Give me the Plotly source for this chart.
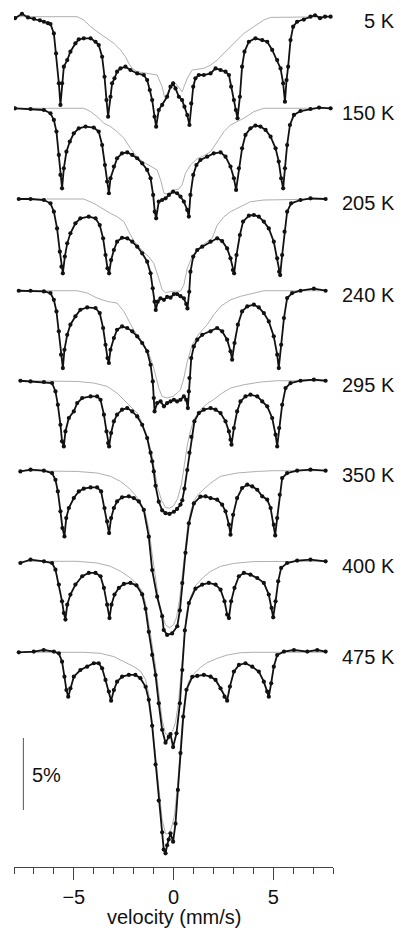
import plotly.graph_objects as go

# ---- temperatures and vertical offsets (relative transmission, %) ----
temps = ["5 K", "150 K", "205 K", "240 K", "295 K", "350 K", "400 K", "475 K"]
offsets = [100.0, 93.64, 87.34, 80.97, 74.72, 68.47, 62.18, 55.86]

# ---- measured spectra: (velocity mm/s, absorption %) ----
s5K = [(-7.95,0.1),(-7.6,-0.2),(-7.3,0.05),(-7.0,0.15),(-6.7,0.25),(-6.5,0.35),(-6.3,0.45),(-6.17,0.51),
       (-6.0,1.16),(-5.89,2.55),(-5.75,4.63),(-5.67,6.13),(-5.59,4.63),(-5.5,3.47),(-5.33,3.01),(-5.17,2.43),
       (-4.92,1.85),(-4.75,1.57),(-4.5,1.5),(-4.16,1.5),(-3.91,1.74),(-3.75,1.97),(-3.58,2.78),(-3.46,4.17),
       (-3.36,5.79),(-3.28,6.94),(-3.16,5.56),(-3.08,4.63),(-2.96,4.28),(-2.83,3.82),(-2.66,3.59),(-2.41,3.47),
       (-2.16,3.7),(-1.82,3.94),(-1.49,4.05),(-1.32,4.4),(-1.19,5.09),(-1.07,5.79),(-0.95,6.94),(-0.87,7.64),
       (-0.74,6.48),(-0.57,6.13),(-0.32,5.56),(-0.15,4.86),(-0.02,4.63),(0.1,4.98),(0.27,5.56),(0.43,5.79),
       (0.55,6.25),(0.69,6.83),(0.8,7.52),(0.89,6.02),(0.99,4.86),(1.1,4.28),(1.27,4.05),(1.52,4.05),
       (1.86,3.94),(2.11,3.59),(2.36,3.7),(2.61,3.82),(2.78,4.05),(2.89,4.86),(3.03,5.79),(3.13,6.48),
       (3.21,7.06),(3.33,5.56),(3.44,3.47),(3.56,2.43),(3.78,1.74),(4.11,1.5),(4.45,1.62),(4.7,1.74),
       (4.95,2.31),(5.2,3.01),(5.37,3.59),(5.5,4.63),(5.59,5.9),(5.67,4.4),(5.75,3.47),(5.87,1.62),
       (6.0,0.69),(6.2,0.35),(6.54,0.2),(6.87,0.0),(7.1,-0.1),(7.35,0.1),(7.6,0.0),(7.88,0.0)]
s150K = [(-7.95,0),(-7.17,0.05),(-6.5,0.12),(-6.17,0.35),(-6.0,0.81),(-5.87,1.62),(-5.75,3.24),(-5.67,4.63),
         (-5.59,5.56),(-5.5,4.17),(-5.37,3.01),(-5.2,2.31),(-5.0,1.74),(-4.75,1.39),(-4.41,1.27),(-4.0,1.34),
         (-3.75,1.62),(-3.58,2.55),(-3.44,3.94),(-3.33,5.09),(-3.24,5.9),(-3.16,4.86),(-2.99,4.05),(-2.83,3.47),
         (-2.58,3.13),(-2.32,3.06),(-2.07,3.24),(-1.82,3.47),(-1.57,3.82),(-1.32,4.28),(-1.15,4.86),(-1.02,6.02),
         (-0.94,7.18),(-0.87,7.64),(-0.74,6.48),(-0.57,6.37),(-0.4,6.25),(-0.23,6.02),(-0.02,5.79),(0.18,5.9),
         (0.35,6.13),(0.52,6.48),(0.69,7.06),(0.77,7.52),(0.85,6.02),(0.99,4.63),(1.15,3.94),(1.35,3.59),
         (1.69,3.36),(2.02,3.13),(2.36,3.06),(2.61,3.36),(2.86,4.05),(3.03,4.86),(3.14,5.67),(3.28,4.17),
         (3.44,2.78),(3.61,1.85),(3.86,1.39),(4.11,1.2),(4.36,1.27),(4.62,1.5),(4.87,1.97),(5.12,2.78),
         (5.28,3.7),(5.4,4.86),(5.5,5.56),(5.59,4.17),(5.7,2.55),(5.84,1.16),(6.04,0.46),(6.37,0.19),
         (6.87,0.05),(7.3,-0.05),(7.88,0)]
s205K = [(-7.76,0),(-7.17,0),(-6.5,0.07),(-6.17,0.3),(-6.0,0.88),(-5.84,2.04),(-5.7,3.66),(-5.62,4.7),
         (-5.55,5.16),(-5.45,4.0),(-5.33,3.08),(-5.17,2.38),(-4.92,1.69),(-4.67,1.34),(-4.25,1.23),(-3.91,1.34),
         (-3.7,1.81),(-3.53,2.73),(-3.41,3.89),(-3.31,4.81),(-3.23,5.16),(-3.13,4.24),(-2.99,3.54),(-2.83,2.96),
         (-2.58,2.69),(-2.32,2.73),(-2.07,2.96),(-1.82,3.31),(-1.57,3.77),(-1.32,4.35),(-1.15,5.16),(-1.04,6.2),
         (-0.95,7.13),(-0.89,7.71),(-0.79,7.13),(-0.65,6.9),(-0.48,7.0),(-0.32,6.8),(-0.15,6.85),(0.02,6.6),
         (0.18,6.6),(0.35,6.75),(0.52,6.9),(0.64,7.3),(0.7,7.6),(0.79,6.44),(0.85,5.05),(0.99,4.0),
         (1.19,3.54),(1.44,3.31),(1.86,2.96),(2.19,2.73),(2.44,2.92),(2.69,3.43),(2.86,4.12),(2.98,4.93),
         (3.04,5.16),(3.16,3.89),(3.33,2.5),(3.49,1.57),(3.78,1.16),(4.03,1.11),(4.28,1.23),(4.53,1.57),
         (4.78,2.04),(5.03,2.96),(5.2,4.12),(5.3,5.05),(5.35,5.28),(5.45,3.89),(5.57,2.27),(5.7,0.88),
         (5.9,0.3),(6.37,0.07),(6.87,-0.05),(7.63,0)]
s240K = [(-7.76,0),(-7.17,0),(-6.5,0.05),(-6.17,0.16),(-6.0,0.63),(-5.87,1.44),(-5.75,2.82),(-5.64,4.44),
         (-5.55,5.37),(-5.47,4.1),(-5.33,3.06),(-5.17,2.36),(-4.92,1.78),(-4.67,1.32),(-4.33,1.16),(-3.91,1.2),
         (-3.7,1.55),(-3.53,2.59),(-3.41,3.75),(-3.31,4.68),(-3.24,5.02),(-3.16,4.1),(-2.99,3.29),(-2.83,2.71),
         (-2.58,2.48),(-2.32,2.59),(-2.07,2.82),(-1.82,3.17),(-1.57,3.63),(-1.32,4.21),(-1.15,5.14),(-1.04,6.3),
         (-0.99,7.45),(-0.95,8.38),(-0.82,7.8),(-0.65,7.69),(-0.48,8.03),(-0.32,7.8),(-0.15,7.69),(0.02,7.57),
         (0.18,7.69),(0.35,7.57),(0.52,7.34),(0.64,7.57),(0.72,8.15),(0.77,6.99),(0.8,6.06),(0.89,4.68),
         (1.02,3.87),(1.19,3.4),(1.44,3.06),(1.86,2.82),(2.19,2.59),(2.44,2.82),(2.69,3.4),(2.86,4.21),
         (2.94,4.79),(3.06,3.63),(3.23,2.36),(3.44,1.44),(3.7,1.09),(4.03,0.97),(4.28,1.16),(4.53,1.55),
         (4.78,2.13),(5.03,3.17),(5.2,4.44),(5.28,5.37),(5.4,3.75),(5.54,1.9),(5.7,0.51),(5.95,0.16),
         (6.37,0),(7.04,-0.14),(7.63,0)]
s295K = [(-7.68,0),(-7.17,0.05),(-6.5,0.09),(-6.09,0.16),(-5.92,0.74),(-5.8,1.67),(-5.67,3.06),(-5.59,4.21),
         (-5.5,4.56),(-5.42,3.52),(-5.25,2.59),(-5.0,2.13),(-4.83,1.55),(-4.58,1.2),(-4.16,1.09),(-3.83,1.09),
         (-3.66,1.32),(-3.49,2.36),(-3.36,3.52),(-3.28,4.33),(-3.23,4.56),(-3.13,3.63),(-2.99,2.82),(-2.83,2.36),
         (-2.58,2.01),(-2.32,1.9),(-2.07,2.13),(-1.82,2.48),(-1.57,3.06),(-1.32,3.98),(-1.15,5.0),(-1.07,5.6),
         (-0.99,6.3),(-0.9,7.3),(-0.74,8.4),(-0.57,9.0),(-0.4,9.2),(-0.2,9.25),(0.02,9.1),(0.18,8.9),
         (0.35,8.6),(0.44,8.3),(0.55,7.5),(0.69,6.2),(0.8,5.0),(0.9,3.9),(1.05,2.82),(1.27,2.25),
         (1.52,2.01),(1.86,1.9),(2.11,2.01),(2.36,2.25),(2.61,2.82),(2.78,3.52),(2.86,4.1),(2.91,4.44),
         (3.03,3.29),(3.19,2.13),(3.36,1.44),(3.61,1.09),(3.86,0.97),(4.2,1.09),(4.45,1.44),(4.7,1.78),
         (4.95,2.59),(5.12,3.75),(5.2,4.56),(5.3,3.29),(5.45,1.67),(5.62,0.51),(5.87,0.16),(6.37,0),
         (7.04,-0.07),(7.63,0)]
s350K = [(-7.68,0.05),(-7.17,-0.07),(-6.5,0),(-6.09,0.16),(-5.92,0.63),(-5.8,1.44),(-5.67,2.82),(-5.57,3.98),
         (-5.47,4.56),(-5.38,3.29),(-5.25,2.59),(-5.0,1.9),(-4.75,1.44),(-4.5,1.25),(-4.16,1.16),(-3.83,1.16),
         (-3.63,1.44),(-3.46,2.59),(-3.33,3.52),(-3.23,4.33),(-3.13,3.29),(-2.99,2.59),(-2.83,2.13),(-2.58,1.85),
         (-2.24,1.78),(-1.99,1.9),(-1.74,2.13),(-1.49,2.72),(-1.24,4.58),(-1.07,6.9),(-0.82,8.75),(-0.57,10.1),
         (-0.49,11.06),(-0.32,11.4),(-0.07,11.3),(0.19,10.8),(0.32,9.7),(0.44,7.8),(0.6,5.7),(0.77,3.65),
         (1.02,2.27),(1.35,1.8),(1.61,1.78),(1.86,1.9),(2.19,2.01),(2.44,2.36),(2.61,2.82),(2.78,3.75),
         (2.86,4.44),(2.99,3.06),(3.19,1.9),(3.44,1.2),(3.7,0.97),(3.95,1.09),(4.2,1.32),(4.45,1.78),
         (4.7,2.01),(4.87,2.59),(5.03,3.75),(5.1,4.49),(5.2,3.29),(5.33,1.67),(5.45,0.51),(5.7,0.16),
         (6.2,0),(6.87,-0.07),(7.63,0)]
s400K = [(-7.68,0.12),(-7.17,-0.12),(-6.5,0),(-6.09,0.12),(-5.92,0.58),(-5.75,1.62),(-5.59,2.78),(-5.5,3.59),
         (-5.42,4.05),(-5.33,3.01),(-5.17,2.31),(-4.92,1.62),(-4.58,1.04),(-4.25,0.81),(-3.91,0.81),(-3.66,1.04),
         (-3.49,1.85),(-3.33,3.01),(-3.21,3.94),(-3.11,3.01),(-2.96,2.31),(-2.74,1.85),(-2.49,1.57),(-2.16,1.5),
         (-1.86,1.67),(-1.57,2.3),(-1.4,3.3),(-1.24,4.9),(-1.07,6.5),(-0.9,7.9),(-0.74,9.86),(-0.57,11.7),
         (-0.4,12.6),(-0.24,12.2),(-0.15,12.0),(-0.02,12.9),(0.15,11.95),(0.32,9.86),(0.44,7.55),(0.57,4.8),
         (0.77,2.9),(1.1,1.9),(1.44,1.62),(1.77,1.5),(2.11,1.62),(2.36,1.97),(2.56,2.78),(2.69,3.7),
         (2.78,3.94),(2.89,2.78),(3.06,1.85),(3.28,1.04),(3.53,0.81),(3.86,0.93),(4.2,1.16),(4.53,1.5),
         (4.78,2.31),(4.92,3.24),(5.0,3.89),(5.12,2.78),(5.25,1.39),(5.4,0.46),(5.7,0.12),(6.2,-0.05),
         (6.87,-0.12),(7.63,0)]
s475K = [(-7.76,0),(-7.01,-0.05),(-6.51,-0.16),(-6.0,-0.05),(-5.75,0.07),(-5.59,0.65),(-5.47,1.69),(-5.37,2.62),
         (-5.28,3.08),(-5.17,2.5),(-5.0,1.69),(-4.67,1.23),(-4.33,1.0),(-4.0,0.76),(-3.75,0.76),(-3.58,1.11),
         (-3.41,1.92),(-3.24,2.73),(-3.13,3.36),(-2.99,2.62),(-2.83,2.04),(-2.58,1.69),(-2.24,1.57),(-1.91,1.57),
         (-1.66,1.8),(-1.4,2.4),(-1.24,3.3),(-1.07,5.1),(-0.9,7.8),(-0.74,10.3),(-0.57,12.5),(-0.49,13.7),
         (-0.4,13.96),(-0.32,13.4),(-0.24,13.0),(-0.15,12.57),(-0.02,13.15),(0.1,11.9),(0.22,9.56),(0.35,7.0),
         (0.49,4.47),(0.65,2.6),(0.94,1.7),(1.19,1.64),(1.52,1.57),(1.86,1.69),(2.11,1.92),(2.36,2.5),
         (2.56,3.08),(2.69,3.36),(2.83,2.38),(3.03,1.34),(3.28,0.88),(3.61,0.76),(3.95,1.0),(4.28,1.34),
         (4.53,2.04),(4.7,2.73),(4.78,3.08),(4.9,2.15),(5.03,1.0),(5.2,0.19),(5.54,-0.05),(6.04,-0.16),
         (6.71,-0.05),(7.21,-0.16),(7.63,-0.05)]

# ---- fitted sub-component (thin grey curve): (velocity mm/s, absorption %) ----
g5K = [(-7.95,0),(-4.83,0),(-4.5,0.23),(-4.16,0.69),(-3.83,1.04),(-3.33,1.5),(-2.99,1.85),(-2.66,2.31),
       (-2.41,2.78),(-2.24,3.24),(-2.07,3.59),(-1.82,3.82),(-1.15,3.94),(-0.82,4.05),(-0.57,4.86),(-0.45,5.6),
       (-0.3,5.3),(-0.02,4.51),(0.18,4.75),(0.43,5.21),(0.69,4.28),(0.94,3.7),(1.52,3.59),(1.86,3.36),
       (2.19,3.01),(2.53,2.55),(2.86,2.08),(3.19,1.62),(3.53,1.16),(4.03,0.69),(4.53,0.23),(4.87,0.05),(7.88,0)]
g150K = [(-7.95,0),(-4.5,0),(-4.16,0.23),(-3.83,0.58),(-3.49,1.04),(-3.16,1.27),(-2.83,1.62),(-2.49,2.08),
         (-2.16,2.78),(-1.82,3.4),(-1.49,3.75),(-1.15,4.05),(-0.82,4.28),(-0.62,5.09),(-0.48,5.9),(-0.32,5.95),
         (-0.02,5.7),(0.27,5.6),(0.43,5.32),(0.6,4.51),(0.85,3.94),(1.19,3.5),(1.52,3.3),(1.86,3.01),
         (2.19,2.31),(2.53,1.62),(2.86,1.16),(3.19,0.93),(3.53,0.69),(4.03,0.23),(4.53,0),(7.88,0)]
g205K = [(-7.76,0),(-4.5,0),(-4.0,0.3),(-3.49,0.76),(-3.16,1.0),(-2.83,1.23),(-2.49,1.57),(-2.24,2.27),
         (-1.99,2.9),(-1.74,3.3),(-1.49,3.7),(-1.24,4.0),(-0.99,4.47),(-0.74,5.51),(-0.57,6.3),(-0.4,6.5),
         (-0.02,6.4),(0.35,6.4),(0.52,5.97),(0.69,4.81),(0.94,4.0),(1.35,3.3),(1.69,3.0),(1.94,2.73),
         (2.19,1.81),(2.53,1.23),(2.86,0.88),(3.36,0.53),(3.86,0.19),(4.53,0.07),(7.63,0)]
g240K = [(-7.76,0),(-4.83,0),(-4.33,0.16),(-3.83,0.51),(-3.33,0.74),(-2.83,0.86),(-2.49,1.44),(-2.24,2.13),
         (-1.99,2.75),(-1.74,3.2),(-1.49,3.7),(-1.24,4.33),(-0.99,5.37),(-0.74,6.76),(-0.57,7.34),(-0.32,7.45),
         (-0.02,7.34),(0.18,7.11),(0.35,6.88),(0.52,6.06),(0.69,4.91),(0.94,3.75),(1.27,3.0),(1.69,2.36),
         (2.02,1.67),(2.36,1.09),(2.86,0.63),(3.36,0.39),(4.03,0.16),(4.53,0),(7.63,0)]
g295K = [(-7.68,0),(-5.67,0),(-4.83,0.05),(-4.0,0.16),(-3.33,0.39),(-2.83,0.86),(-2.41,1.44),(-2.07,1.9),
         (-1.82,2.25),(-1.57,2.94),(-1.32,3.9),(-1.1,5.0),(-0.95,6.3),(-0.8,7.4),(-0.6,8.3),(-0.4,8.8),
         (-0.2,8.85),(0.0,8.7),(0.2,8.2),(0.4,7.2),(0.55,5.8),(0.7,4.4),(0.85,3.5),(1.02,2.7),
         (1.35,2.0),(1.69,1.6),(2.02,1.3),(2.44,0.86),(2.86,0.51),(3.53,0.28),(4.36,0.09),(5.2,0),(7.63,0)]
g350K = [(-7.68,0),(-5.67,0),(-4.83,0.05),(-3.83,0.16),(-3.16,0.39),(-2.66,0.74),(-2.24,1.2),(-1.91,1.7),
         (-1.66,2.2),(-1.4,3.0),(-1.24,4.0),(-1.07,5.8),(-0.9,7.6),(-0.74,9.0),(-0.57,10.0),(-0.4,10.7),
         (-0.2,10.9),(0.0,10.7),(0.15,10.2),(0.3,9.0),(0.42,7.5),(0.55,5.8),(0.7,4.0),(0.85,2.9),
         (1.02,2.1),(1.27,1.6),(1.52,1.3),(1.86,0.86),(2.36,0.39),(3.19,0.16),(4.2,0.05),(5.0,0),(7.63,0)]
g400K = [(-7.68,0),(-4.83,0),(-3.83,0.12),(-3.16,0.35),(-2.66,0.69),(-2.16,1.16),(-1.82,1.6),(-1.57,2.1),
         (-1.4,2.9),(-1.24,4.2),(-1.07,5.8),(-0.9,7.3),(-0.74,9.2),(-0.57,11.0),(-0.4,12.0),(-0.2,12.0),
         (-0.05,11.8),(0.1,11.2),(0.25,9.8),(0.38,7.8),(0.5,5.5),(0.65,3.6),(0.85,2.5),(1.1,1.7),
         (1.5,1.1),(1.86,0.7),(2.36,0.35),(3.0,0.15),(4.0,0.02),(5.0,0),(7.63,0)]
g475K = [(-7.76,0),(-4.5,0),(-3.66,0.07),(-2.99,0.3),(-2.49,0.65),(-1.99,1.0),(-1.66,1.3),(-1.4,1.9),
         (-1.24,2.9),(-1.07,4.8),(-0.9,7.2),(-0.74,9.6),(-0.57,11.6),(-0.4,12.6),(-0.25,12.6),(-0.1,12.2),
         (0.05,11.3),(0.2,9.3),(0.32,7.0),(0.45,4.6),(0.6,2.8),(0.77,2.0),(1.02,1.5),(1.35,1.05),
         (1.69,0.72),(2.19,0.42),(2.69,0.19),(3.36,0.03),(4.0,0),(7.63,0)]

spectra = [s5K, s150K, s205K, s240K, s295K, s350K, s400K, s475K]
components = [g5K, g150K, g205K, g240K, g295K, g350K, g400K, g475K]

# scale bar: x position (mm/s), bottom (%), length (%)
scale_bar = [-7.53, 44.91, 5.0]

x_ticks = [-5, 0, 5]
FONT = "Liberation Sans, Arial, Helvetica, sans-serif"

fig = go.Figure()
for off, data, comp in zip(offsets, spectra, components):
    fig.add_trace(go.Scatter(
        x=[p[0] for p in comp], y=[off - p[1] for p in comp],
        mode="lines", line=dict(color="#9a9a9a", width=0.8), hoverinfo="skip"))
    fig.add_trace(go.Scatter(
        x=[p[0] for p in data], y=[off - p[1] for p in data],
        mode="lines+markers", line=dict(color="#111111", width=1.8),
        marker=dict(size=4.2, color="#111111")))

for t, off in zip(temps, offsets):
    fig.add_annotation(x=1.2006, xref="paper", y=off - 0.3, yref="y", text=t,
                       showarrow=False, xanchor="right", yanchor="middle",
                       font=dict(family=FONT, size=20, color="#111"))

fig.add_shape(type="line", xref="x", yref="y",
              x0=scale_bar[0], x1=scale_bar[0], y0=scale_bar[1], y1=scale_bar[1] + scale_bar[2],
              line=dict(color="#555", width=1))
fig.add_annotation(x=scale_bar[0] + 0.35, xref="x", y=scale_bar[1] + 0.5 * scale_bar[2] - 0.1, yref="y",
                   text="5%", showarrow=False, xanchor="left", yanchor="middle",
                   font=dict(family=FONT, size=20, color="#111"))

fig.add_annotation(x=0, xref="x", y=-0.058, yref="paper", text="velocity (mm/s)",
                   showarrow=False, xanchor="center", yanchor="middle",
                   font=dict(family=FONT, size=20, color="#111"))

fig.update_layout(
    width=409, height=928, margin=dict(l=14, r=76, t=0, b=61),
    paper_bgcolor="white", plot_bgcolor="white", showlegend=False,
    xaxis=dict(range=[-8, 8], tickvals=x_ticks, ticks="outside", ticklen=12, tickwidth=1,
               tickcolor="#444", showline=True, linecolor="#444", linewidth=1,
               showgrid=False, zeroline=False, automargin=False,
               tickfont=dict(family=FONT, size=20, color="#111"),
               minor=dict(ticks="outside", ticklen=6, dtick=1, tick0=0, tickcolor="#444", showgrid=False)),
    yaxis=dict(range=[40.95, 101.16], visible=False, automargin=False),
)

fig.write_html("out.html")
